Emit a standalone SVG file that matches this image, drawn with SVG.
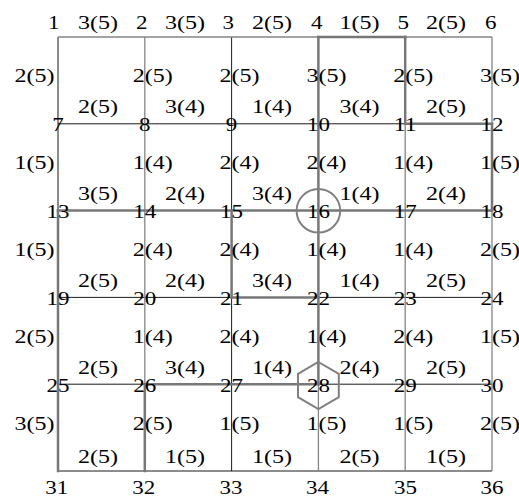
<svg xmlns="http://www.w3.org/2000/svg" width="519" height="497" viewBox="0 0 519 497">
<style>
text{font-family:"Liberation Serif","Times New Roman",serif;font-size:19px;fill:#000;text-anchor:middle}
.b{stroke:#000;stroke-width:0.9}
.g{stroke:#858585;stroke-width:1.3}
.t{stroke:#777;stroke-width:2.5;stroke-linecap:square}
.mark{fill:none;stroke:#808080;stroke-width:2}
</style>
<rect width="519" height="497" fill="#fff"/>
<g id="connectors">
<g id="edges-black">
<line class="b" x1="58" y1="123.8" x2="405.2" y2="123.8"/>
<line class="b" x1="58" y1="297.4" x2="231.6" y2="297.4"/>
<line class="b" x1="318.4" y1="297.4" x2="492" y2="297.4"/>
<line class="b" x1="58" y1="384.2" x2="144.8" y2="384.2"/>
<line class="b" x1="318.4" y1="384.2" x2="492" y2="384.2"/>
<line class="b" x1="58" y1="471" x2="492" y2="471"/>
<line class="b" x1="58" y1="37" x2="58" y2="210.6"/>
<line class="b" x1="231.6" y1="37" x2="231.6" y2="210.6"/>
<line class="b" x1="231.6" y1="297.4" x2="231.6" y2="471"/>
</g>
<g id="edges-gray">
<line class="g" x1="58" y1="37" x2="318.4" y2="37"/>
<line class="g" x1="405.2" y1="37" x2="492" y2="37"/>
<line class="g" x1="144.8" y1="37" x2="144.8" y2="384.2"/>
<line class="g" x1="405.2" y1="123.8" x2="405.2" y2="471"/>
<line class="g" x1="492" y1="37" x2="492" y2="123.8"/>
<line class="g" x1="492" y1="210.6" x2="492" y2="471"/>
<line class="g" x1="318.4" y1="384.2" x2="318.4" y2="471"/>
</g>
<g id="edges-thick">
<line class="t" x1="318.4" y1="37" x2="405.2" y2="37"/>
<line class="t" x1="405.2" y1="123.8" x2="492" y2="123.8"/>
<line class="t" x1="58" y1="210.6" x2="492" y2="210.6"/>
<line class="t" x1="231.6" y1="297.4" x2="318.4" y2="297.4"/>
<line class="t" x1="144.8" y1="384.2" x2="318.4" y2="384.2"/>
<line class="t" x1="318.4" y1="37" x2="318.4" y2="384.2"/>
<line class="t" x1="405.2" y1="37" x2="405.2" y2="123.8"/>
<line class="t" x1="492" y1="123.8" x2="492" y2="210.6"/>
<line class="t" x1="58" y1="210.6" x2="58" y2="471"/>
<line class="t" x1="231.6" y1="210.6" x2="231.6" y2="297.4"/>
<line class="t" x1="144.8" y1="384.2" x2="144.8" y2="471"/>
</g>
<g id="edge-labels">
<text x="98" y="29" textLength="40" lengthAdjust="spacingAndGlyphs">3(5)</text>
<text x="185" y="29" textLength="40" lengthAdjust="spacingAndGlyphs">3(5)</text>
<text x="272" y="29" textLength="40" lengthAdjust="spacingAndGlyphs">2(5)</text>
<text x="359.5" y="29" textLength="40" lengthAdjust="spacingAndGlyphs">1(5)</text>
<text x="446" y="29" textLength="40" lengthAdjust="spacingAndGlyphs">2(5)</text>

<text x="98" y="113.3" textLength="40" lengthAdjust="spacingAndGlyphs">2(5)</text>
<text x="185" y="113.3" textLength="40" lengthAdjust="spacingAndGlyphs">3(4)</text>
<text x="272" y="113.3" textLength="40" lengthAdjust="spacingAndGlyphs">1(4)</text>
<text x="359.5" y="113.3" textLength="40" lengthAdjust="spacingAndGlyphs">3(4)</text>
<text x="446" y="113.3" textLength="40" lengthAdjust="spacingAndGlyphs">2(5)</text>

<text x="98" y="200.1" textLength="40" lengthAdjust="spacingAndGlyphs">3(5)</text>
<text x="185" y="200.1" textLength="40" lengthAdjust="spacingAndGlyphs">2(4)</text>
<text x="272" y="200.1" textLength="40" lengthAdjust="spacingAndGlyphs">3(4)</text>
<text x="359.5" y="200.1" textLength="40" lengthAdjust="spacingAndGlyphs">1(4)</text>
<text x="446" y="200.1" textLength="40" lengthAdjust="spacingAndGlyphs">2(4)</text>

<text x="98" y="286.9" textLength="40" lengthAdjust="spacingAndGlyphs">2(5)</text>
<text x="185" y="286.9" textLength="40" lengthAdjust="spacingAndGlyphs">2(4)</text>
<text x="272" y="286.9" textLength="40" lengthAdjust="spacingAndGlyphs">3(4)</text>
<text x="359.5" y="286.9" textLength="40" lengthAdjust="spacingAndGlyphs">1(4)</text>
<text x="446" y="286.9" textLength="40" lengthAdjust="spacingAndGlyphs">2(5)</text>

<text x="98" y="373.7" textLength="40" lengthAdjust="spacingAndGlyphs">2(5)</text>
<text x="185" y="373.7" textLength="40" lengthAdjust="spacingAndGlyphs">3(4)</text>
<text x="272" y="373.7" textLength="40" lengthAdjust="spacingAndGlyphs">1(4)</text>
<text x="359.5" y="373.7" textLength="40" lengthAdjust="spacingAndGlyphs">2(4)</text>
<text x="446" y="373.7" textLength="40" lengthAdjust="spacingAndGlyphs">2(5)</text>

<text x="98" y="462.5" textLength="40" lengthAdjust="spacingAndGlyphs">2(5)</text>
<text x="185" y="462.5" textLength="40" lengthAdjust="spacingAndGlyphs">1(5)</text>
<text x="272" y="462.5" textLength="40" lengthAdjust="spacingAndGlyphs">1(5)</text>
<text x="359.5" y="462.5" textLength="40" lengthAdjust="spacingAndGlyphs">2(5)</text>
<text x="446" y="462.5" textLength="40" lengthAdjust="spacingAndGlyphs">1(5)</text>

<text x="34.5" y="82.4" textLength="40" lengthAdjust="spacingAndGlyphs">2(5)</text>
<text x="152.8" y="82.4" textLength="40" lengthAdjust="spacingAndGlyphs">2(5)</text>
<text x="239.6" y="82.4" textLength="40" lengthAdjust="spacingAndGlyphs">2(5)</text>
<text x="326.4" y="82.4" textLength="40" lengthAdjust="spacingAndGlyphs">3(5)</text>
<text x="413.2" y="82.4" textLength="40" lengthAdjust="spacingAndGlyphs">2(5)</text>
<text x="500" y="82.4" textLength="40" lengthAdjust="spacingAndGlyphs">3(5)</text>

<text x="34.5" y="169.2" textLength="40" lengthAdjust="spacingAndGlyphs">1(5)</text>
<text x="152.8" y="169.2" textLength="40" lengthAdjust="spacingAndGlyphs">1(4)</text>
<text x="239.6" y="169.2" textLength="40" lengthAdjust="spacingAndGlyphs">2(4)</text>
<text x="326.4" y="169.2" textLength="40" lengthAdjust="spacingAndGlyphs">2(4)</text>
<text x="413.2" y="169.2" textLength="40" lengthAdjust="spacingAndGlyphs">1(4)</text>
<text x="500" y="169.2" textLength="40" lengthAdjust="spacingAndGlyphs">1(5)</text>

<text x="34.5" y="256" textLength="40" lengthAdjust="spacingAndGlyphs">1(5)</text>
<text x="152.8" y="256" textLength="40" lengthAdjust="spacingAndGlyphs">2(4)</text>
<text x="239.6" y="256" textLength="40" lengthAdjust="spacingAndGlyphs">2(4)</text>
<text x="326.4" y="256" textLength="40" lengthAdjust="spacingAndGlyphs">1(4)</text>
<text x="413.2" y="256" textLength="40" lengthAdjust="spacingAndGlyphs">1(4)</text>
<text x="500" y="256" textLength="40" lengthAdjust="spacingAndGlyphs">2(5)</text>

<text x="34.5" y="342.8" textLength="40" lengthAdjust="spacingAndGlyphs">2(5)</text>
<text x="152.8" y="342.8" textLength="40" lengthAdjust="spacingAndGlyphs">1(4)</text>
<text x="239.6" y="342.8" textLength="40" lengthAdjust="spacingAndGlyphs">2(4)</text>
<text x="326.4" y="342.8" textLength="40" lengthAdjust="spacingAndGlyphs">1(4)</text>
<text x="413.2" y="342.8" textLength="40" lengthAdjust="spacingAndGlyphs">2(4)</text>
<text x="500" y="342.8" textLength="40" lengthAdjust="spacingAndGlyphs">1(5)</text>

<text x="34.5" y="429.6" textLength="40" lengthAdjust="spacingAndGlyphs">3(5)</text>
<text x="152.8" y="429.6" textLength="40" lengthAdjust="spacingAndGlyphs">2(5)</text>
<text x="239.6" y="429.6" textLength="40" lengthAdjust="spacingAndGlyphs">1(5)</text>
<text x="326.4" y="429.6" textLength="40" lengthAdjust="spacingAndGlyphs">1(5)</text>
<text x="413.2" y="429.6" textLength="40" lengthAdjust="spacingAndGlyphs">1(5)</text>
<text x="500" y="429.6" textLength="40" lengthAdjust="spacingAndGlyphs">2(5)</text>
</g>
</g>
<g id="nodes">
<g id="n1"><text x="53.8" y="29" textLength="11.5" lengthAdjust="spacingAndGlyphs">1</text></g>
<g id="n2"><text x="141.7" y="29" textLength="11.5" lengthAdjust="spacingAndGlyphs">2</text></g>
<g id="n3"><text x="228.3" y="29" textLength="11.5" lengthAdjust="spacingAndGlyphs">3</text></g>
<g id="n4"><text x="316.7" y="29" textLength="11.5" lengthAdjust="spacingAndGlyphs">4</text></g>
<g id="n5"><text x="403.3" y="29" textLength="11.5" lengthAdjust="spacingAndGlyphs">5</text></g>
<g id="n6"><text x="490.7" y="29" textLength="11.5" lengthAdjust="spacingAndGlyphs">6</text></g>
<g id="n7"><text x="58" y="131.1" textLength="11.5" lengthAdjust="spacingAndGlyphs">7</text></g>
<g id="n8"><text x="144.8" y="131.1" textLength="11.5" lengthAdjust="spacingAndGlyphs">8</text></g>
<g id="n9"><text x="231.6" y="131.1" textLength="11.5" lengthAdjust="spacingAndGlyphs">9</text></g>
<g id="n10"><text x="318.4" y="131.1" textLength="23" lengthAdjust="spacingAndGlyphs">10</text></g>
<g id="n11"><text x="405.2" y="131.1" textLength="23" lengthAdjust="spacingAndGlyphs">11</text></g>
<g id="n12"><text x="492" y="131.1" textLength="23" lengthAdjust="spacingAndGlyphs">12</text></g>
<g id="n13"><text x="58" y="217.9" textLength="23" lengthAdjust="spacingAndGlyphs">13</text></g>
<g id="n14"><text x="144.8" y="217.9" textLength="23" lengthAdjust="spacingAndGlyphs">14</text></g>
<g id="n15"><text x="231.6" y="217.9" textLength="23" lengthAdjust="spacingAndGlyphs">15</text></g>
<g id="n16"><circle class="mark" cx="318.4" cy="210.8" r="21.8"/><text x="318.4" y="217.9" textLength="23" lengthAdjust="spacingAndGlyphs">16</text></g>
<g id="n17"><text x="405.2" y="217.9" textLength="23" lengthAdjust="spacingAndGlyphs">17</text></g>
<g id="n18"><text x="492" y="217.9" textLength="23" lengthAdjust="spacingAndGlyphs">18</text></g>
<g id="n19"><text x="58" y="304.7" textLength="23" lengthAdjust="spacingAndGlyphs">19</text></g>
<g id="n20"><text x="144.8" y="304.7" textLength="23" lengthAdjust="spacingAndGlyphs">20</text></g>
<g id="n21"><text x="231.6" y="304.7" textLength="23" lengthAdjust="spacingAndGlyphs">21</text></g>
<g id="n22"><text x="318.4" y="304.7" textLength="23" lengthAdjust="spacingAndGlyphs">22</text></g>
<g id="n23"><text x="405.2" y="304.7" textLength="23" lengthAdjust="spacingAndGlyphs">23</text></g>
<g id="n24"><text x="492" y="304.7" textLength="23" lengthAdjust="spacingAndGlyphs">24</text></g>
<g id="n25"><text x="58" y="391.5" textLength="23" lengthAdjust="spacingAndGlyphs">25</text></g>
<g id="n26"><text x="144.8" y="391.5" textLength="23" lengthAdjust="spacingAndGlyphs">26</text></g>
<g id="n27"><text x="231.6" y="391.5" textLength="23" lengthAdjust="spacingAndGlyphs">27</text></g>
<g id="n28"><polygon class="mark" points="318.4,362 338.8,373.8 338.8,397.2 318.4,409 298,397.2 298,373.8"/><text x="318.4" y="391.5" textLength="23" lengthAdjust="spacingAndGlyphs">28</text></g>
<g id="n29"><text x="405.2" y="391.5" textLength="23" lengthAdjust="spacingAndGlyphs">29</text></g>
<g id="n30"><text x="492" y="391.5" textLength="23" lengthAdjust="spacingAndGlyphs">30</text></g>
<g id="n31"><text x="56.7" y="493.5" textLength="23" lengthAdjust="spacingAndGlyphs">31</text></g>
<g id="n32"><text x="143.8" y="493.5" textLength="23" lengthAdjust="spacingAndGlyphs">32</text></g>
<g id="n33"><text x="231" y="493.5" textLength="23" lengthAdjust="spacingAndGlyphs">33</text></g>
<g id="n34"><text x="317.5" y="493.5" textLength="23" lengthAdjust="spacingAndGlyphs">34</text></g>
<g id="n35"><text x="405.5" y="493.5" textLength="23" lengthAdjust="spacingAndGlyphs">35</text></g>
<g id="n36"><text x="492" y="493.5" textLength="23" lengthAdjust="spacingAndGlyphs">36</text></g>
</g>
</svg>
